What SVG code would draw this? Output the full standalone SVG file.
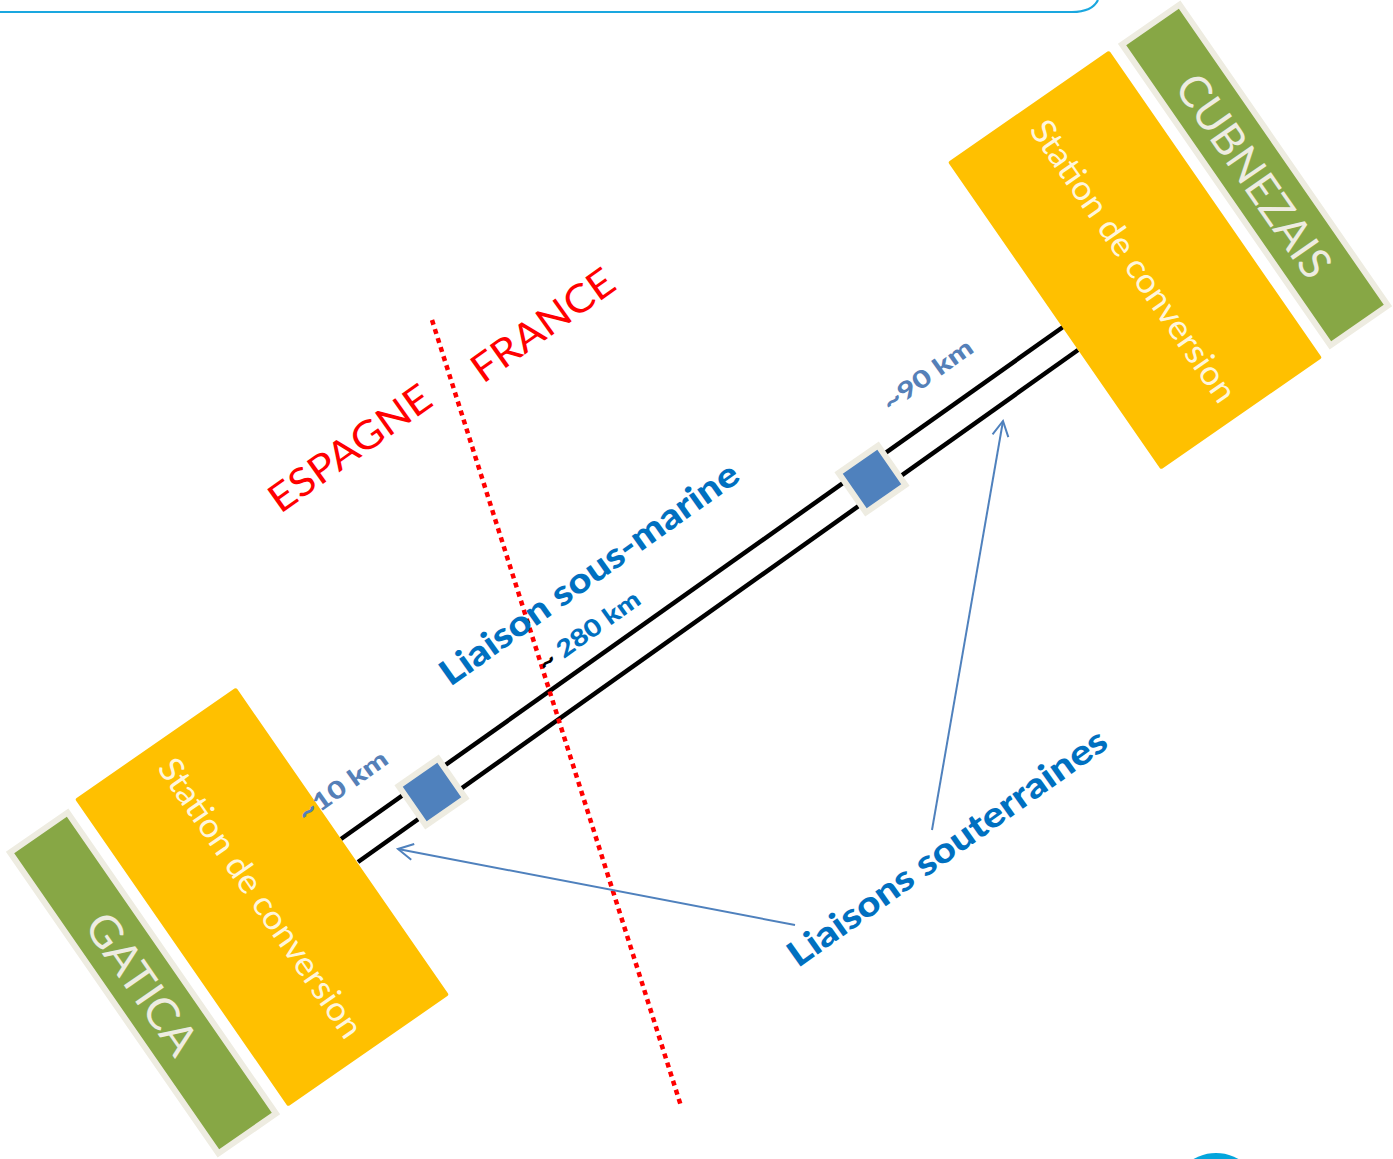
<svg xmlns="http://www.w3.org/2000/svg" width="1393" height="1159" viewBox="0 0 1393 1159">
<style>
.station{fill:#FFC000}
.site{fill:#87A745;stroke:#EEECE1;stroke-width:6}
.stxt{font-family:Lato,"Open Sans",sans-serif;font-size:34px;fill:#FFF6DC;text-anchor:middle;dominant-baseline:central}
.gtxt{font-family:Lato,"Open Sans",sans-serif;font-size:44px;fill:#EEECE1;text-anchor:middle;dominant-baseline:central}
.sq{fill:#4F81BD;stroke:#EEECE1;stroke-width:6}
.cable{stroke:#000;stroke-width:4.5;fill:none}
.arrow{stroke:#4F81BD;stroke-width:2;fill:none;marker-end:url(#vh)}
.country{font-family:Lato,"Open Sans",sans-serif;font-size:39px;fill:#FF0000;text-anchor:middle;dominant-baseline:central}
.lbl{font-family:Lato,"Open Sans",sans-serif;font-weight:900;font-size:35px;fill:#0070C0;text-anchor:middle;dominant-baseline:central}
.km{font-family:Lato,"Open Sans",sans-serif;font-weight:900;font-size:24px;fill:#5580B8;text-anchor:middle;dominant-baseline:central}
</style>
<defs>
<marker id="vh" markerUnits="userSpaceOnUse" markerWidth="40" markerHeight="40" viewBox="-20 -20 40 40" refX="0" refY="0" orient="auto">
<path d="M-15,-8 L0,0 L-15,8" fill="none" stroke="#4F81BD" stroke-width="2"/>
</marker>
</defs>
<rect width="1393" height="1159" fill="#fff"/>
<path d="M0,12 H1072 Q1092,12 1098,0" fill="none" stroke="#1AA7DF" stroke-width="2.2"/>
<circle cx="1216" cy="1198" r="45" fill="#04A5DC"/>

<g id="connectors">
<line class="cable" x1="341" y1="839" x2="1063" y2="327"/>
<line class="cable" x1="358" y1="862" x2="1078" y2="350"/>
<line x1="432" y1="320" x2="681" y2="1106" stroke="#FF0000" stroke-width="4.5" stroke-dasharray="5 4.5"/>
<line class="arrow" x1="795" y1="925" x2="398" y2="849"/>
<line class="arrow" x1="932" y1="830" x2="1003" y2="421"/>
</g>

<g id="site-gatica" transform="translate(143,983) rotate(55.3)">
<rect class="site" x="-183" y="-35" width="366" height="70"/>
<text class="gtxt" x="0" y="0" textLength="162" lengthAdjust="spacingAndGlyphs">GATICA</text>
</g>
<g id="station-left" transform="translate(262,897) rotate(55.3)">
<rect class="station" x="-187" y="-98" width="374" height="196" rx="2"/>
<text class="stxt" x="0" y="0" textLength="332" lengthAdjust="spacingAndGlyphs">Station de conversion</text>
</g>
<g id="site-cubnezais" transform="translate(1255,175) rotate(55.3)">
<rect class="site" x="-183" y="-35" width="366" height="70"/>
<text class="gtxt" x="0" y="0" textLength="237" lengthAdjust="spacingAndGlyphs">CUBNEZAIS</text>
</g>
<g id="station-right" transform="translate(1135,260) rotate(55.3)">
<rect class="station" x="-187" y="-98" width="374" height="196" rx="2"/>
<text class="stxt" x="0" y="0" textLength="335" lengthAdjust="spacingAndGlyphs">Station de conversion</text>
</g>
<g id="joint-left" transform="translate(432,792) rotate(55.3)">
<rect class="sq" x="-24" y="-24" width="48" height="48"/>
</g>
<g id="joint-right" transform="translate(872,479) rotate(55.3)">
<rect class="sq" x="-24" y="-24" width="48" height="48"/>
</g>

<g id="labels">
<text class="country" transform="translate(349,447) rotate(-35.4)" textLength="190" lengthAdjust="spacingAndGlyphs">ESPAGNE</text>
<text class="country" transform="translate(542,324) rotate(-35.4)" textLength="166" lengthAdjust="spacingAndGlyphs">FRANCE</text>
<text class="lbl" transform="translate(588,572) rotate(-35.4)" textLength="358" lengthAdjust="spacingAndGlyphs">Liaison sous-marine</text>
<text class="lbl" transform="translate(946,846) rotate(-35.4)" textLength="383" lengthAdjust="spacingAndGlyphs">Liaisons souterraines</text>
<text class="km" transform="translate(588,630) rotate(-35.4)" style="fill:#0070C0" textLength="120" lengthAdjust="spacingAndGlyphs"><tspan fill="#000">~</tspan> 280 km</text>
<text class="km" transform="translate(342,785) rotate(-35.4)" textLength="104" lengthAdjust="spacingAndGlyphs">~10 km</text>
<text class="km" transform="translate(927,374) rotate(-35.4)" textLength="105" lengthAdjust="spacingAndGlyphs">~90 km</text>
</g>
</svg>
